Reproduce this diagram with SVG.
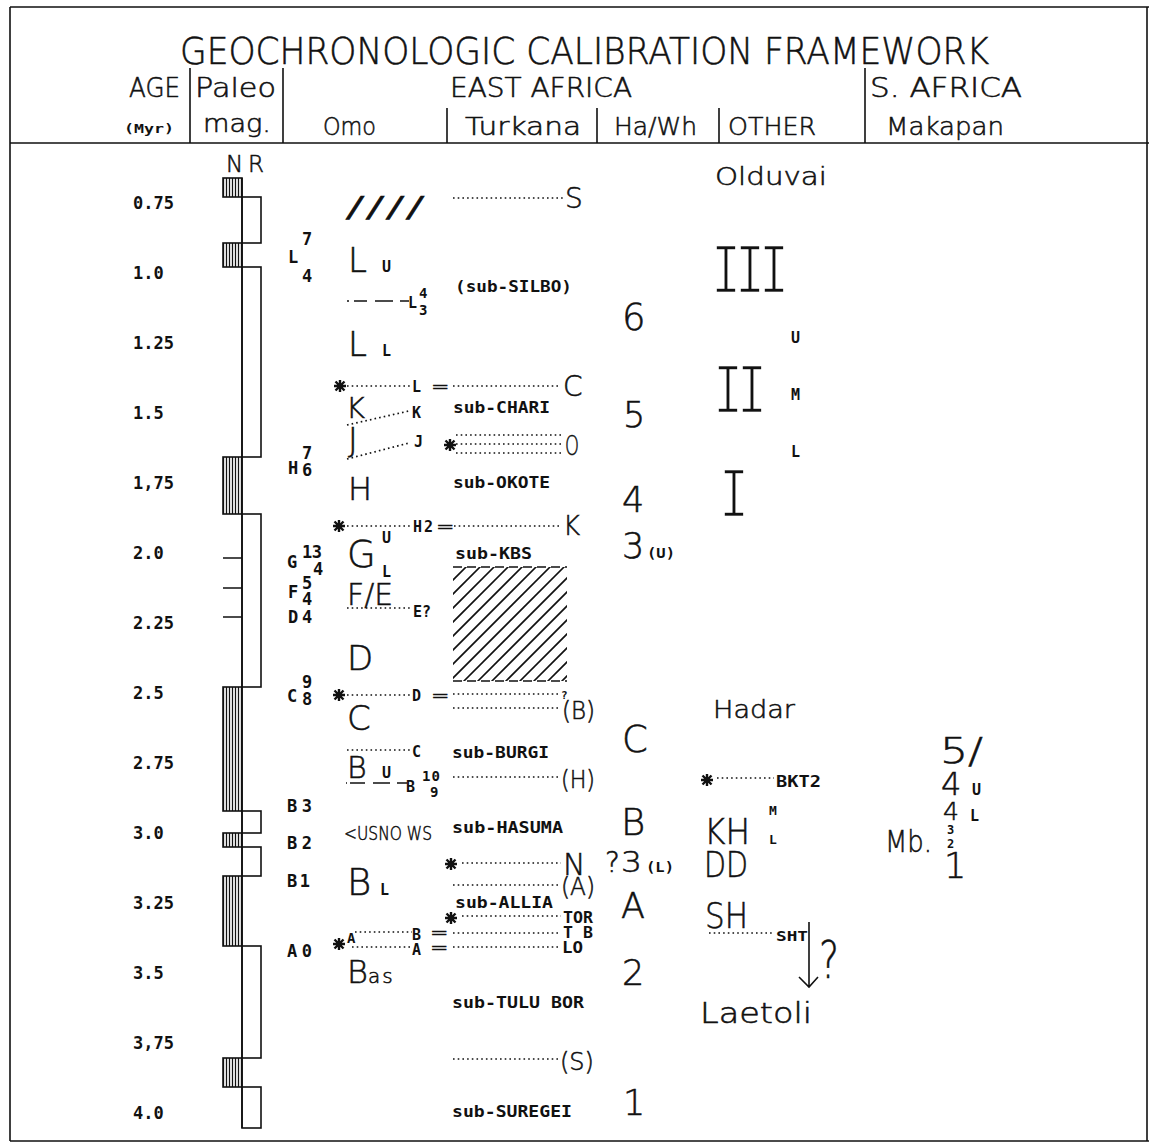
<svg xmlns="http://www.w3.org/2000/svg" width="1149" height="1147" viewBox="0 0 1149 1147">
<style>
.big{font-family:"DejaVu Sans",sans-serif;font-weight:300;fill:#111;stroke:#111;stroke-width:0.55}
.lmono{font-family:"Liberation Mono","DejaVu Sans Mono",monospace;font-weight:normal;fill:#111;stroke:#fff;stroke-width:1.7}
.sm{font-family:"DejaVu Sans Mono",monospace;font-weight:bold;fill:#111}
.ln{stroke:#111;stroke-width:1.6;fill:none}
.dot{stroke:#111;stroke-width:1.7;stroke-dasharray:1.6 3.1;fill:none}
.nbox{fill:url(#nh);stroke:#111;stroke-width:1.6}
.rbox{fill:#fff;stroke:#111;stroke-width:1.6}
</style>
<defs>
<pattern id="nh" width="3" height="10" patternUnits="userSpaceOnUse"><line x1="1.5" y1="0" x2="1.5" y2="10" stroke="#111" stroke-width="1.3"/></pattern>
<g id="ast"><path d="M-6,0H6M0,-6V6M-4.5,-4.5L4.5,4.5M-4.5,4.5L4.5,-4.5" stroke="#111" stroke-width="2.4"/></g>
<clipPath id="hclip"><rect x="453" y="567" width="114" height="114"/></clipPath>
</defs>
<rect width="1149" height="1147" fill="#fff"/>
<g id="frame">
<path class="ln" d="M10,7H1149M10,143H1149M10,1141H1149M10,7V1141M1147,7V1141"/>
<path class="ln" d="M190,68V143M283,68V143M865,68V143M447,108V143M597,108V143M719,108V143"/>
</g>
<g id="header">
<text class="big" x="180" y="64" font-size="37" textLength="809" lengthAdjust="spacingAndGlyphs">GEOCHRONOLOGIC CALIBRATION FRAMEWORK</text>
<text class="big" x="129" y="97" font-size="26" textLength="51" lengthAdjust="spacingAndGlyphs">AGE</text>
<text class="big" x="195" y="97" font-size="26" textLength="81" lengthAdjust="spacingAndGlyphs">Paleo</text>
<text class="big" x="450" y="97" font-size="26" textLength="182" lengthAdjust="spacingAndGlyphs">EAST AFRICA</text>
<text class="big" x="870" y="97" font-size="26" textLength="152" lengthAdjust="spacingAndGlyphs">S. AFRICA</text>
<text class="sm" x="124" y="133" font-size="13" textLength="50" lengthAdjust="spacingAndGlyphs">(Myr)</text>
<text class="big" x="203" y="132" font-size="24" textLength="68" lengthAdjust="spacingAndGlyphs">mag.</text>
<text class="big" x="323" y="135" font-size="25" textLength="53" lengthAdjust="spacingAndGlyphs">Omo</text>
<text class="big" x="465" y="135" font-size="25" textLength="116" lengthAdjust="spacingAndGlyphs">Turkana</text>
<text class="big" x="614" y="135" font-size="25" textLength="83" lengthAdjust="spacingAndGlyphs">Ha/Wh</text>
<text class="big" x="728" y="135" font-size="25" textLength="88" lengthAdjust="spacingAndGlyphs">OTHER</text>
<text class="big" x="886" y="135" font-size="25" textLength="118" lengthAdjust="spacingAndGlyphs">Makapan</text>
</g>
<g id="age-scale" class="sm" font-size="17">
<text x="133" y="209">0.75</text>
<text x="133" y="279">1.0</text>
<text x="133" y="349">1.25</text>
<text x="133" y="419">1.5</text>
<text x="133" y="489">1,75</text>
<text x="133" y="559">2.0</text>
<text x="133" y="629">2.25</text>
<text x="133" y="699">2.5</text>
<text x="133" y="769">2.75</text>
<text x="133" y="839">3.0</text>
<text x="133" y="909">3.25</text>
<text x="133" y="979">3.5</text>
<text x="133" y="1049">3,75</text>
<text x="133" y="1119">4.0</text>
</g>
<g id="paleomag">
<text class="big" x="226" y="172" font-size="23">N</text>
<text class="big" x="248" y="172" font-size="23">R</text>
<rect class="nbox" x="223" y="178" width="19" height="19"/>
<rect class="rbox" x="242" y="197" width="19" height="46"/>
<rect class="nbox" x="223" y="243" width="19" height="24"/>
<rect class="rbox" x="242" y="267" width="19" height="190"/>
<rect class="nbox" x="223" y="457" width="19" height="57"/>
<rect class="rbox" x="242" y="514" width="19" height="173"/>
<rect class="nbox" x="223" y="687" width="19" height="124"/>
<rect class="rbox" x="242" y="811" width="19" height="22"/>
<rect class="nbox" x="223" y="833" width="19" height="14"/>
<rect class="rbox" x="242" y="847" width="19" height="29"/>
<rect class="nbox" x="223" y="876" width="19" height="70"/>
<rect class="rbox" x="242" y="946" width="19" height="112"/>
<rect class="nbox" x="223" y="1058" width="19" height="29"/>
<rect class="rbox" x="242" y="1087" width="19" height="41"/>
<path class="ln" d="M242,178V1128M223,558H242M223,588H242M223,617H242"/>
</g>
<g id="paleomag-labels" class="sm" font-size="17">
<text x="288" y="263">L</text><text x="302" y="245">7</text><text x="302" y="282">4</text>
<text x="288" y="474">H</text><text x="302" y="459">7</text><text x="302" y="476">6</text>
<text x="287" y="568">G</text><text x="302" y="558" textLength="20">13</text><text x="313" y="575">4</text>
<text x="288" y="598">F</text><text x="302" y="589">5</text><text x="302" y="605">4</text>
<text x="288" y="623">D</text><text x="302" y="623">4</text>
<text x="287" y="702">C</text><text x="302" y="688">9</text><text x="302" y="705">8</text>
<text x="287" y="812" textLength="25">B3</text>
<text x="287" y="849" textLength="25">B2</text>
<text x="287" y="887" textLength="23">B1</text>
<text x="287" y="957" textLength="25">A0</text>
</g>
<g id="connectors">
<path class="dot" d="M347,386H411M453,386H561"/>
<path class="dot" d="M347,425L409,411M347,459L409,443"/>
<path class="dot" d="M456,435H561M456,444H561M456,453H561"/>
<path class="dot" d="M347,526H411M454,526H561"/>
<path class="dot" d="M347,608H411"/>
<path class="dot" d="M347,695H411M453,694H559M453,708H561"/>
<path class="dot" d="M347,750H411"/>
<path class="dot" d="M453,777H561"/>
<path class="dot" d="M462,863H561M453,885H561M462,916H561"/>
<path class="dot" d="M355,932H412M453,933H561M352,947H412M453,947H561"/>
<path class="dot" d="M453,1059H559M453,198H563"/>
<path class="dot" d="M717,778H774M709,933H774"/>
<path class="ln" d="M347,301H349M354,301H367M375,301H393M400,301H409"/>
<path class="ln" d="M346,783H347M350,783H365M373,783H390M397,783H407"/>
<path class="ln" d="M809,922V987M799,977L809,987L818,977"/>
<use href="#ast" x="340" y="386"/>
<use href="#ast" x="450" y="445"/>
<use href="#ast" x="339" y="526"/>
<use href="#ast" x="339" y="695"/>
<use href="#ast" x="707" y="780"/>
<use href="#ast" x="451" y="864"/>
<use href="#ast" x="451" y="918"/>
<use href="#ast" x="339" y="944"/>
</g>
<g id="omo">
<text class="big" x="345" y="217" font-size="28" textLength="80" lengthAdjust="spacingAndGlyphs" stroke-width="1.2">////</text>
<text class="big" x="348" y="272" font-size="34">L</text><text class="sm" x="382" y="272" font-size="15">U</text>
<text class="sm" x="408" y="308" font-size="15">L</text><text class="sm" x="419" y="298" font-size="14">4</text><text class="sm" x="419" y="315" font-size="14">3</text>
<text class="big" x="348" y="356" font-size="34">L</text><text class="sm" x="382" y="356" font-size="15">L</text>
<text class="sm" x="412" y="392" font-size="15">L</text><text class="big" x="431" y="394" font-size="22">=</text>
<text class="big" x="346" y="418" font-size="29">K</text><text class="sm" x="412" y="418" font-size="15">K</text>
<text class="big" x="348" y="452" font-size="33">J</text><text class="sm" x="414" y="447" font-size="15">J</text>
<text class="big" x="348" y="500" font-size="32">H</text>
<text class="sm" x="413" y="532" font-size="15" textLength="20">H2</text><text class="big" x="436" y="534" font-size="22">=</text>
<text class="sm" x="382" y="543" font-size="15">U</text>
<text class="big" x="347" y="567" font-size="37">G</text><text class="sm" x="382" y="577" font-size="15">L</text>
<text class="big" x="347" y="605" font-size="30" textLength="46" lengthAdjust="spacingAndGlyphs">F/E</text>
<text class="sm" x="413" y="617" font-size="15" textLength="18">E?</text>
<text class="big" x="347" y="670" font-size="34">D</text>
<text class="sm" x="412" y="701" font-size="15">D</text><text class="big" x="431" y="703" font-size="22">=</text>
<text class="big" x="347" y="730" font-size="34">C</text>
<text class="sm" x="412" y="757" font-size="15">C</text>
<text class="big" x="347" y="778" font-size="30">B</text><text class="sm" x="382" y="778" font-size="15">U</text>
<text class="sm" x="406" y="792" font-size="15">B</text><text class="sm" x="422" y="781" font-size="14" textLength="18">10</text><text class="sm" x="430" y="797" font-size="14">9</text>
<text class="big" x="344" y="840" font-size="20" textLength="88" lengthAdjust="spacingAndGlyphs">&lt;USNO WS</text>
<text class="big" x="347" y="895" font-size="37">B</text><text class="sm" x="380" y="895" font-size="15">L</text>
<text class="sm" x="412" y="940" font-size="15">B</text><text class="big" x="430" y="940" font-size="22">=</text>
<text class="sm" x="347" y="943" font-size="14">A</text>
<text class="sm" x="412" y="955" font-size="15">A</text><text class="big" x="430" y="955" font-size="22">=</text>
<text class="big" x="347" y="983" font-size="32">B<tspan font-size="20" letter-spacing="2">as</tspan></text>
</g>
<g id="turkana">
<text class="big" x="565" y="208" font-size="28">S</text>
<text class="sm" x="455" y="292" font-size="15" textLength="117" lengthAdjust="spacingAndGlyphs">(sub-SILBO)</text>
<text class="big" x="563" y="396" font-size="28">C</text>
<text class="sm" x="453" y="413" font-size="15" textLength="97" lengthAdjust="spacingAndGlyphs">sub-CHARI</text>
<text class="big" x="565" y="455" font-size="27" textLength="14" lengthAdjust="spacingAndGlyphs">O</text>
<text class="sm" x="453" y="488" font-size="15" textLength="97" lengthAdjust="spacingAndGlyphs">sub-OKOTE</text>
<text class="big" x="563" y="535" font-size="26">K</text>
<text class="sm" x="455" y="559" font-size="15" textLength="77" lengthAdjust="spacingAndGlyphs">sub-KBS</text>
<g id="hatch-box">
<g clip-path="url(#hclip)" class="ln">
<path d="M343,690L473,560M357,690L487,560M371,690L501,560M385,690L515,560M399,690L529,560M413,690L543,560M427,690L557,560M441,690L571,560M455,690L585,560M469,690L599,560M483,690L613,560M497,690L627,560M511,690L641,560M525,690L655,560M539,690L669,560M553,690L683,560"/>
</g>
<path class="ln" stroke-dasharray="9 5" d="M453,567H567M453,681H567"/>
</g>
<text class="sm" x="561" y="699" font-size="11">?</text>
<text class="big" x="562" y="719" font-size="24" textLength="33" lengthAdjust="spacingAndGlyphs">(B)</text>
<text class="sm" x="452" y="758" font-size="15" textLength="97" lengthAdjust="spacingAndGlyphs">sub-BURGI</text>
<text class="big" x="561" y="788" font-size="25" textLength="34" lengthAdjust="spacingAndGlyphs">(H)</text>
<text class="sm" x="452" y="833" font-size="15" textLength="111" lengthAdjust="spacingAndGlyphs">sub-HASUMA</text>
<text class="big" x="563" y="875" font-size="30">N</text>
<text class="big" x="561" y="895" font-size="25" textLength="34" lengthAdjust="spacingAndGlyphs">(A)</text>
<text class="sm" x="455" y="908" font-size="15" textLength="98" lengthAdjust="spacingAndGlyphs">sub-ALLIA</text>
<text class="sm" x="563" y="923" font-size="15" textLength="30" lengthAdjust="spacingAndGlyphs">TOR</text>
<text class="sm" x="563" y="938" font-size="15" textLength="30" lengthAdjust="spacingAndGlyphs">T B</text>
<text class="sm" x="562" y="953" font-size="15" textLength="21" lengthAdjust="spacingAndGlyphs">LO</text>
<text class="sm" x="452" y="1008" font-size="15" textLength="132" lengthAdjust="spacingAndGlyphs">sub-TULU BOR</text>
<text class="big" x="560" y="1070" font-size="25" textLength="34" lengthAdjust="spacingAndGlyphs">(S)</text>
<text class="sm" x="452" y="1117" font-size="15" textLength="120" lengthAdjust="spacingAndGlyphs">sub-SUREGEI</text>
</g>
<g id="hawh">
<text class="big" x="622" y="330" font-size="37">6</text>
<text class="big" x="623" y="427" font-size="35">5</text>
<text class="big" x="622" y="512" font-size="35">4</text>
<text class="big" x="622" y="558" font-size="35">3</text><text class="sm" x="647" y="558" font-size="14" textLength="28" lengthAdjust="spacingAndGlyphs">(U)</text>
<text class="big" x="622" y="752" font-size="37">C</text>
<text class="big" x="621" y="835" font-size="37">B</text>
<text class="big" x="605" y="872" font-size="28">?</text><text class="big" x="621" y="872" font-size="28" textLength="21" lengthAdjust="spacingAndGlyphs">3</text><text class="sm" x="646" y="872" font-size="14" textLength="28" lengthAdjust="spacingAndGlyphs">(L)</text>
<text class="big" x="621" y="918" font-size="35">A</text>
<text class="big" x="622" y="985" font-size="35">2</text>
<text class="big" x="623" y="1115" font-size="35">1</text>
</g>
<g id="other">
<text class="big" x="715" y="185" font-size="25" textLength="112" lengthAdjust="spacingAndGlyphs">Olduvai</text>
<text class="lmono" font-size="50" letter-spacing="-6" transform="translate(711,293) scale(1,1.44)">III</text>
<text class="sm" x="791" y="343" font-size="15">U</text>
<text class="lmono" font-size="50" letter-spacing="-6" transform="translate(713,413) scale(1,1.44)">II</text>
<text class="sm" x="791" y="400" font-size="15">M</text>
<text class="sm" x="791" y="457" font-size="15">L</text>
<text class="lmono" font-size="50" transform="translate(719,517) scale(1,1.44)">I</text>
<text class="big" x="713" y="718" font-size="25" textLength="82" lengthAdjust="spacingAndGlyphs">Hadar</text>
<text class="sm" x="776" y="787" font-size="15" textLength="45" lengthAdjust="spacingAndGlyphs">BKT2</text>
<text class="big" x="704" y="844" font-size="36" textLength="46" lengthAdjust="spacingAndGlyphs">KH</text>
<text class="sm" x="769" y="815" font-size="13">M</text>
<text class="sm" x="769" y="844" font-size="13">L</text>
<text class="big" x="704" y="877" font-size="35" textLength="44" lengthAdjust="spacingAndGlyphs">DD</text>
<text class="big" x="705" y="928" font-size="35" textLength="43" lengthAdjust="spacingAndGlyphs">SH</text>
<text class="sm" x="776" y="941" font-size="14" textLength="32" lengthAdjust="spacingAndGlyphs">SHT</text>
<text class="big" x="819" y="978" font-size="52" textLength="20" lengthAdjust="spacingAndGlyphs">?</text>
<text class="big" x="700" y="1023" font-size="28" textLength="112" lengthAdjust="spacingAndGlyphs">Laetoli</text>
</g>
<g id="s-africa">
<text class="big" x="940" y="763" font-size="35" textLength="43" lengthAdjust="spacingAndGlyphs">5/</text>
<text class="big" x="941" y="795" font-size="32">4</text><text class="sm" x="972" y="795" font-size="15">U</text>
<text class="big" x="943" y="820" font-size="25">4</text><text class="sm" x="970" y="821" font-size="15">L</text>
<text class="sm" x="947" y="834" font-size="12">3</text>
<text class="sm" x="947" y="848" font-size="12">2</text>
<text class="big" x="944" y="878" font-size="35">1</text>
<text class="big" x="885" y="852" font-size="30" textLength="47" lengthAdjust="spacingAndGlyphs">Mb.</text>
</g>
</svg>
